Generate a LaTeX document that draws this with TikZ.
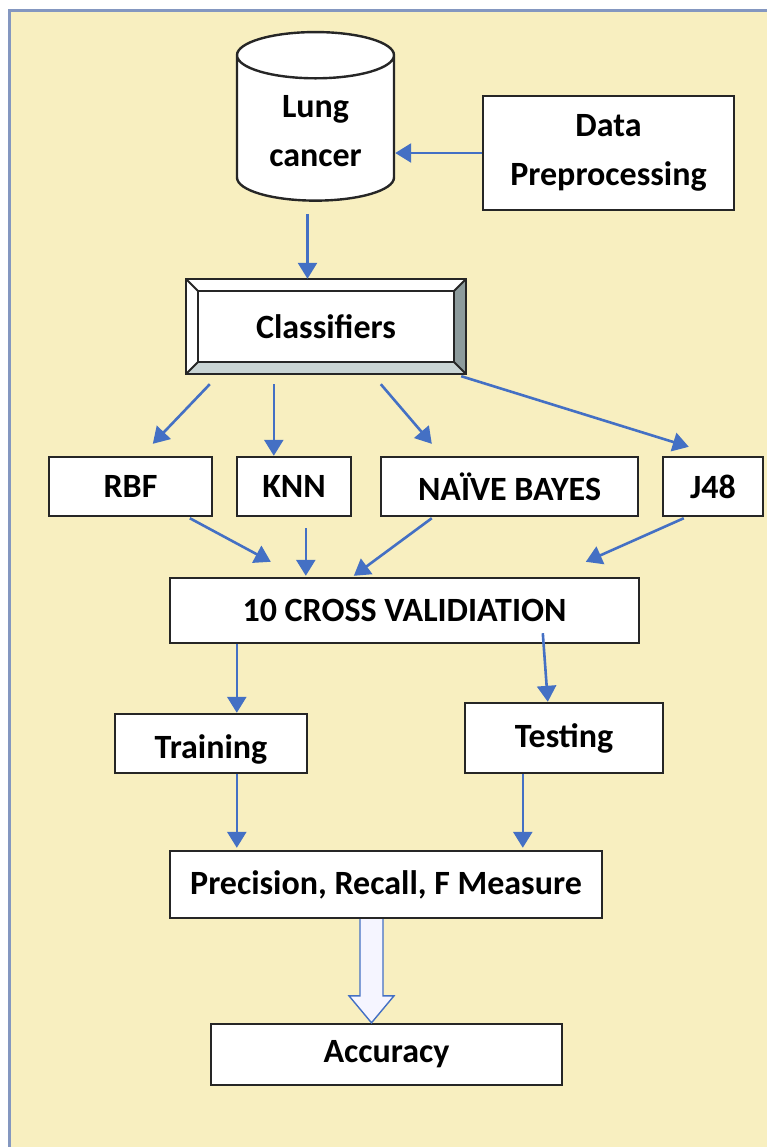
\documentclass[tikz,border=0pt]{standalone}
\usepackage{fontspec}
\setmainfont{Carlito}
\usetikzlibrary{positioning,arrows.meta,shapes.geometric,calc}
\definecolor{panel}{HTML}{F8EFC0}
\definecolor{frameblue}{HTML}{8497C0}
\definecolor{arrblue}{HTML}{4470C4}
\definecolor{bevdark}{HTML}{8D9B9C}
\definecolor{bevlight}{HTML}{C9D4D4}

\begin{document}
\begin{tikzpicture}[x=0.5pt, y=-0.5pt,
  every node/.style={font=\fontsize{17}{24.5}\selectfont\bfseries},
  box/.style   ={draw=black!85, line width=1.2pt, fill=white, align=center, inner sep=0pt},
  db/.style    ={cylinder, shape border rotate=90, aspect=0.5, draw=black!85, line width=1.2pt,
                 cylinder uses custom fill, cylinder body fill=white, cylinder end fill=white,
                 inner sep=0pt},
  arr/.style   ={-{Triangle[length=8pt,width=9.5pt]}, draw=arrblue, line width=1.3pt},
  hollow/.style={draw=arrblue, line width=0.7pt, fill=blue!4},
  bevel/.style ={draw=black!85, line width=0.9pt}]

%% ── Page and panel ───────────────────────────────────────────────
\useasboundingbox (0,0) rectangle (767,1147);
\fill[white] (0,0) rectangle (767,1147);
\fill[panel] (9,10) rectangle (767,1147);
\draw[frameblue, line width=1.5pt] (9,1147) -- (9,10) -- (767,10);

%% ── Data source ──────────────────────────────────────────────────
\node[db, minimum height=80.5pt, minimum width=78.5pt] (lung) at (315.5,128.5)
  {\raisebox{-2pt}[\height][\depth]{\begin{tabular}{@{}c@{}}Lung\\cancer\end{tabular}}};
\node[box, minimum width=125.5pt, minimum height=57pt] (prep) at (608.5,153) {Data\\Preprocessing};

%% ── Classifiers (bevelled box) ───────────────────────────────────
\node[box, minimum width=139pt, minimum height=46.5pt] (classif) at (326,326.5) {Classifiers};
\fill[white] (classif.north west) -- (classif.north east) -- ($(classif.north east)+(-12,12)$) -- ($(classif.north west)+(12,12)$) -- cycle;
\fill[white] (classif.north west) -- (classif.south west) -- ($(classif.south west)+(12,-12)$) -- ($(classif.north west)+(12,12)$) -- cycle;
\fill[bevdark] (classif.north east) -- (classif.south east) -- ($(classif.south east)+(-12,-12)$) -- ($(classif.north east)+(-12,12)$) -- cycle;
\fill[bevlight] (classif.south west) -- (classif.south east) -- ($(classif.south east)+(-12,-12)$) -- ($(classif.south west)+(12,-12)$) -- cycle;
\draw[bevel] ($(classif.north west)+(12,12)$) rectangle ($(classif.south east)+(-12,-12)$);
\draw[bevel] (classif.north west) -- ++(12,12) (classif.north east) -- ++(-12,12)
             (classif.south west) -- ++(12,-12) (classif.south east) -- ++(-12,-12);
\draw[bevel, line width=1.2pt] (classif.north west) rectangle (classif.south east);

%% ── Classifier row ───────────────────────────────────────────────
\node[box, minimum width=81.5pt, minimum height=29.5pt] (rbf) at (130.5,486.5) {RBF};
\node[box, minimum width=57pt,   minimum height=29.5pt] (knn) at (294,486.5)   {KNN};
\node[box, minimum width=128.5pt,minimum height=29.5pt] (nb)  at (509.5,486.5) {NAÏVE BAYES};
\node[box, minimum width=50pt,   minimum height=29.5pt] (j48) at (713,486.5)   {J48};

%% ── Validation, split, measures ──────────────────────────────────
\node[box, minimum width=234.5pt, minimum height=32.5pt] (cv) at (404.5,610.5) {10 CROSS VALIDIATION};
\node[box, minimum width=96pt, minimum height=29.5pt] (train) at (211,743.5)
  {\raisebox{-3pt}[\height][\depth]{Training}};
\node[box, minimum width=99pt, minimum height=35pt] (test) at (564,738) {Testing};
\node[box, minimum width=216pt, minimum height=33.5pt] (prec) at (386,884.5) {Precision, Recall, F Measure};
\node[box, minimum width=175.5pt, minimum height=30.5pt] (acc) at (386.5,1054.5) {Accuracy};

%% ── Arrows: source ───────────────────────────────────────────────
\coordinate (lungout) at ($(lung.south)+(-8,12)$);
\draw[arr] (prep.west) -- (prep.west -| lung.east);
\draw[arr] (lungout) -- (lungout |- classif.north);

%% ── Arrows: classifiers -> row ───────────────────────────────────
\draw[arr] ($(classif.south west)+(24,10)$)  -- ($(rbf.north west)+(105,-12)$);
\draw[arr] ($(classif.south west)+(88,10)$)  -- ($(knn.north west)+(38,0)$);
\draw[arr] ($(classif.south west)+(195,10)$) -- ($(nb.north west)+(52,-12)$);
\draw[arr] ($(classif.south east)+(-5,2)$)   -- ($(j48.north west)+(27,-9)$);

%% ── Arrows: row -> validation ────────────────────────────────────
\draw[arr] ($(rbf.south west)+(142,1)$) -- ($(cv.north west)+(102,-15)$);
\draw[arr] ($(knn.south west)+(70,11)$) -- ($(cv.north west)+(137,-1)$);
\draw[arr] ($(nb.south west)+(52,1)$)   -- ($(cv.north west)+(185,-1)$);
\draw[arr] ($(j48.south west)+(22,1)$)  -- ($(cv.north west)+(417,-15)$);

%% ── Arrows: validation -> split -> measures ──────────────────────
\draw[arr] ($(cv.south west)+(68,0)$)    -- ($(train.north west)+(123,0)$);
\draw[arr] ($(cv.south west)+(374,-11)$) -- ($(test.north west)+(84,0)$);
\draw[arr] ($(train.south west)+(123,0)$) -- ($(prec.north west)+(68,-2)$);
\draw[arr] ($(test.south west)+(59,0)$)   -- ($(prec.north west)+(354,-2)$);

%% ── Hollow arrow to accuracy ─────────────────────────────────────
\draw[hollow] ($(prec.south)+(-26,0)$) -- ($(acc.north)+(-26.5,-27)$) -- ($(acc.north)+(-37.5,-27)$)
  -- ($(acc.north)+(-15,0)$) -- ($(acc.north)+(7.5,-27)$) -- ($(acc.north)+(-3.5,-27)$) -- ($(prec.south)+(-3,0)$);
\end{tikzpicture}
\end{document}
